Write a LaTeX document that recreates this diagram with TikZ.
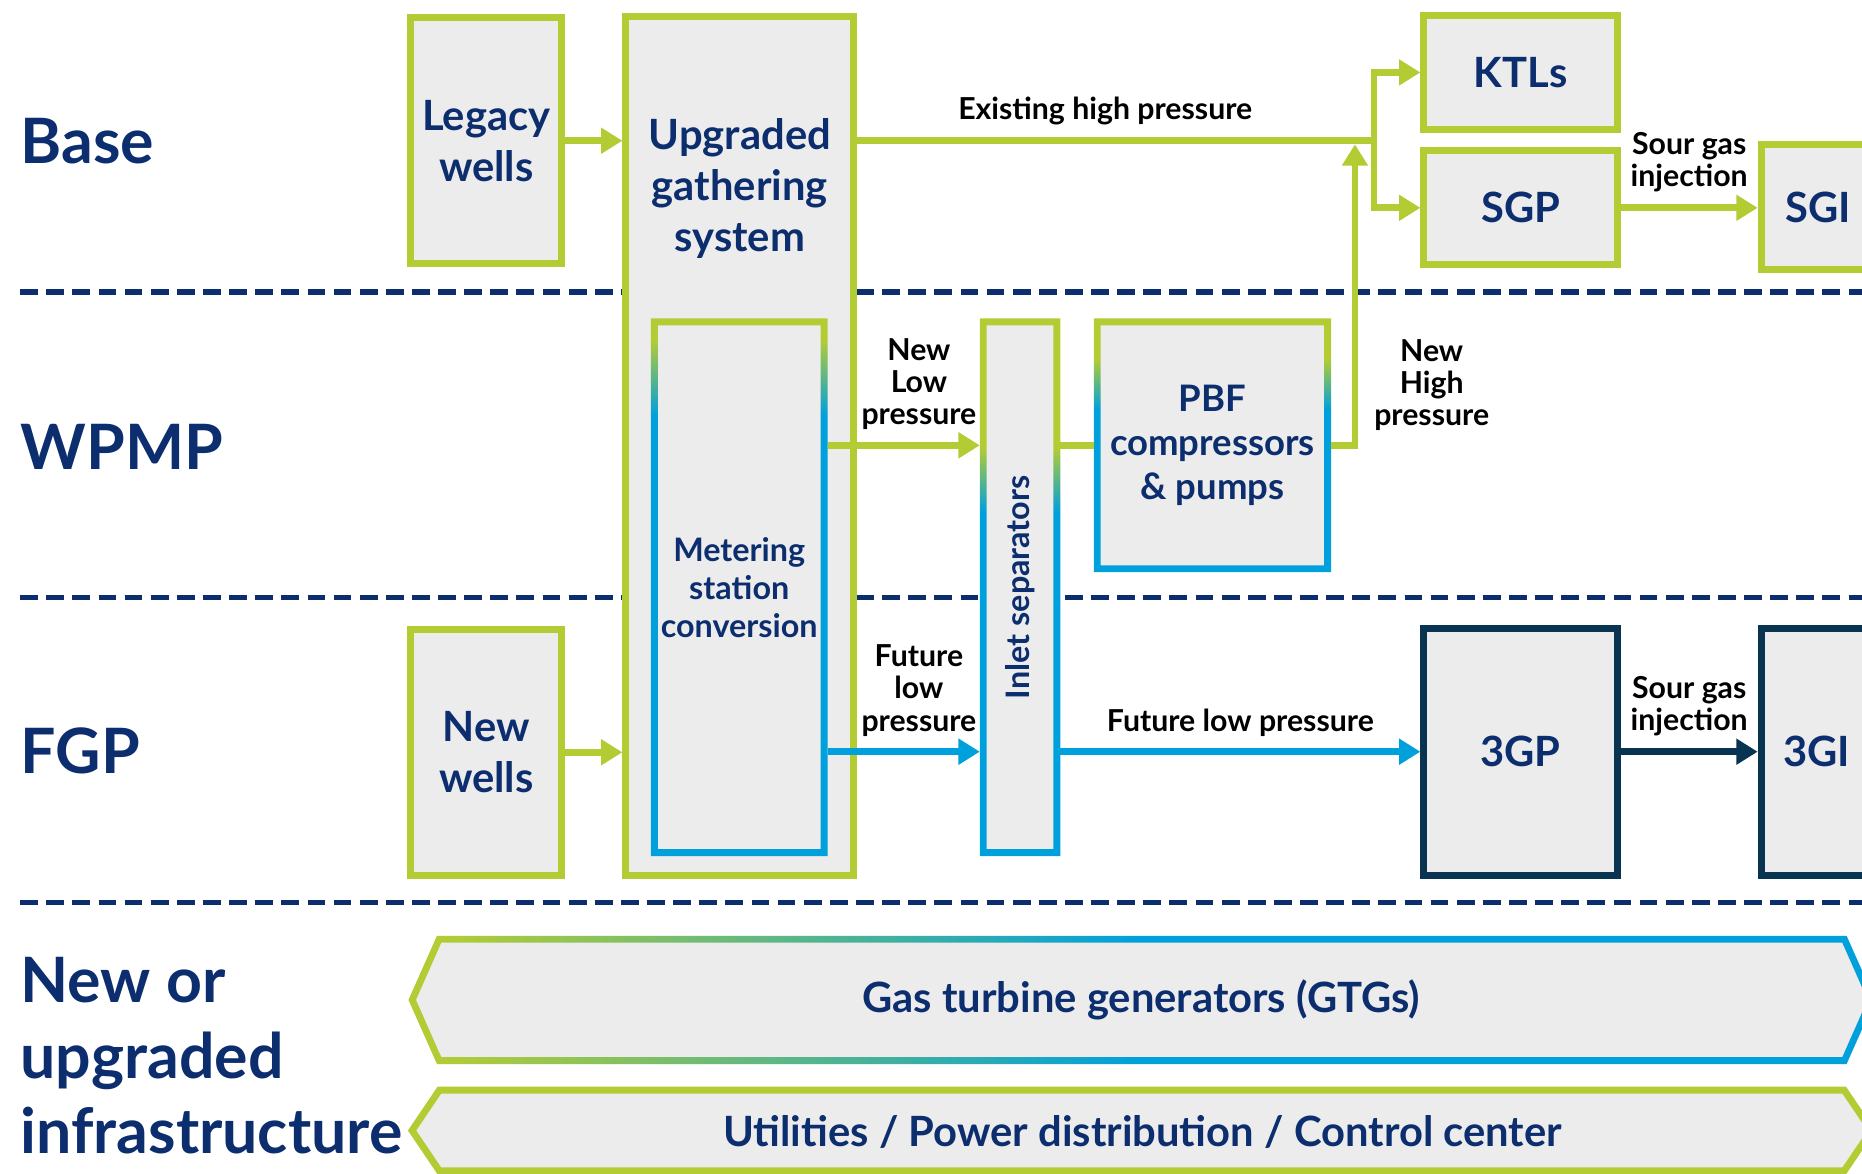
\documentclass[tikz,border=0pt]{standalone}
\usepackage{fontspec}
\setmainfont{Lato}
\usetikzlibrary{arrows.meta, positioning, calc}

\definecolor{lime}{RGB}{180,204,52}
\definecolor{sky}{RGB}{0,160,220}
\definecolor{navy}{RGB}{12,45,110}
\definecolor{deep}{RGB}{8,52,82}
\definecolor{boxgray}{RGB}{236,236,236}

% border fades, green at the top (or left) into blue
\pgfdeclareverticalshading{metfade}{100bp}{color(0bp)=(sky); color(66bp)=(sky); color(73bp)=(lime); color(100bp)=(lime)}
\pgfdeclareverticalshading{pbffade}{100bp}{color(0bp)=(sky); color(57bp)=(sky); color(67bp)=(lime); color(100bp)=(lime)}
\pgfdeclareverticalshading{inletfade}{100bp}{color(0bp)=(sky); color(57bp)=(sky); color(63bp)=(lime); color(100bp)=(lime)}
\pgfdeclarehorizontalshading{gtgfade}{100bp}{color(0bp)=(lime); color(26bp)=(lime); color(50bp)=(sky); color(100bp)=(sky)}

\begin{document}
\begin{tikzpicture}[
    x=0.02cm, y=-0.02cm,
    unit/.style={rectangle, draw=lime, fill=boxgray, line width=3.3pt, outer sep=1.65pt, inner sep=0pt, align=center, text=navy, font=\fontsize{20}{24.4}\selectfont\bfseries},
    boxtxt/.style={inner sep=0pt, align=center, text=navy, font=\fontsize{20}{24.4}\selectfont\bfseries},
    band/.style={anchor=west, inner sep=0pt, align=left, text=navy, font=\fontsize{30}{36.2}\selectfont\bfseries},
    lbl/.style={align=center, text=black, font=\fontsize{14.5}{15.4}\selectfont\bfseries},
    divider/.style={navy, line width=0.09cm, dash pattern=on 0.3cm off 0.14cm},
    gline/.style={lime, line width=3.3pt},
    garrow/.style={-{Triangle[length=0.36cm, width=0.42cm]}, lime, line width=3.3pt},
    barrow/.style={-{Triangle[length=0.36cm, width=0.42cm]}, sky, line width=3.3pt},
    darrow/.style={-{Triangle[length=0.36cm, width=0.42cm]}, deep, line width=3.3pt}
]
    \useasboundingbox (0,0) rectangle (1568,988);
    \clip (0,0) rectangle (1568,988);

    % Row labels and dividers
    \node[band] (base) at (17,119) {Base};
    \node[band] (wpmp) at (17,376) {WPMP};
    \node[band] (fgp) at (17,632) {FGP};
    \node[band] (infra) at (17,889) {New or\\upgraded\\infrastructure};
    \draw[divider] (17,246) -- (1568,246);
    \draw[divider] (17,503) -- (1568,503);
    \draw[divider] (17,760) -- (1568,760);

    % Nodes
    \node[unit, minimum width=2.54cm, minimum height=4.14cm] (legacy) at (409.5,118.5) {Legacy\\wells};
    \node[unit, minimum width=2.54cm, minimum height=4.14cm] (newwells) at (409.5,633.5) {New\\wells};
    \node[unit, minimum width=3.84cm, minimum height=14.46cm] (ugs) at (623,375.5) {};
    \node[boxtxt] (ugstext) at (623,159) {Upgraded\\gathering\\system};
    \node[unit, draw=none, minimum width=2.86cm, minimum height=8.94cm, font=\fontsize{15.5}{18.2}\selectfont\bfseries] (met) at (622.5,494.5) {Metering\\station\\conversion};
    \node[unit, draw=none, minimum width=1.24cm, minimum height=8.94cm] (inlet) at (859,494.5) {};
    \node[boxtxt, rotate=90, font=\fontsize{15.5}{18.2}\selectfont\bfseries] (inlettext) at (inlet) {Inlet separators};
    \node[unit, draw=none, minimum width=3.88cm, minimum height=4.16cm, font=\fontsize{17.5}{21.3}\selectfont\bfseries] (pbf) at (1021,375) {PBF\\compressors\\\& pumps};
    \node[unit, minimum width=3.26cm, minimum height=1.92cm] (ktl) at (1280.5,61) {KTLs};
    \node[unit, minimum width=3.26cm, minimum height=1.92cm] (sgp) at (1280.5,175) {SGP};
    \node[unit, minimum width=1.92cm, minimum height=2.10cm] (sgi) at (1531,174.5) {SGI};
    \node[unit, draw=deep, minimum width=3.26cm, minimum height=4.16cm] (tgp) at (1280.5,633) {3GP};
    \node[unit, draw=deep, minimum width=1.88cm, minimum height=4.16cm] (tgi) at (1530,633) {3GI};

    % Faded borders
    \shade[shading=metfade, even odd rule] (met.south west) rectangle (met.north east) ($(met.south west)+(5.8,-5.8)$) rectangle ($(met.north east)+(-5.8,5.8)$);
    \shade[shading=inletfade, even odd rule] (inlet.south west) rectangle (inlet.north east) ($(inlet.south west)+(5.8,-5.8)$) rectangle ($(inlet.north east)+(-5.8,5.8)$);
    \shade[shading=pbffade, even odd rule] (pbf.south west) rectangle (pbf.north east) ($(pbf.south west)+(5.8,-5.8)$) rectangle ($(pbf.north east)+(-5.8,5.8)$);

    % Infrastructure bands
    \fill[boxgray] (344,842) -- (368,788) -- (1555,788) -- (1579,842) -- (1555,896) -- (368,896) -- cycle;
    \shade[shading=gtgfade, even odd rule] (344,842) -- (368,788) -- (1555,788) -- (1579,842) -- (1555,896) -- (368,896) -- cycle
        (350.3,842) -- (371.6,793.8) -- (1551.4,793.8) -- (1572.7,842) -- (1551.4,890.2) -- (371.6,890.2) -- cycle;
    \node[boxtxt] (gtg) at (961,842) {Gas turbine generators (GTGs)};
    \draw[gline, fill=boxgray] (347,952) -- (370,918) -- (1553,918) -- (1576,952) -- (1553,986) -- (370,986) -- cycle;
    \node[boxtxt] (util) at (962,953) {Utilities / Power distribution / Control center};

    % Arrows
    \coordinate (split) at (1157,118.5);
    \coordinate (hpjoin) at (1141,121.5);
    \draw[garrow] (legacy.east) -- (legacy.east -| ugs.west);
    \draw[garrow] (newwells.east) -- (newwells.east -| ugs.west);
    \draw[gline] (ugs.east |- split) -- node[lbl, above=2.5pt, pos=0.48] {Existing high pressure} (split);
    \draw[garrow] (split) |- (ktl.west);
    \draw[garrow] (split) |- (sgp.west);
    \draw[garrow] (sgp.east) -- node[lbl, above=2.5pt] {Sour gas\\injection} (sgp.east -| sgi.west);
    \draw[garrow] (met.east |- pbf) -- node[lbl, above=2.5pt, pos=0.6] {New\\Low\\pressure} (inlet.west |- pbf);
    \draw[gline] (inlet.east |- pbf) -- (pbf.west);
    \draw[garrow] (pbf.east) -| node[lbl, right=0.15cm, pos=0.6] {New\\High\\pressure} (hpjoin);
    \draw[barrow] (met.east |- tgp) -- node[lbl, above=2.5pt, pos=0.6] {Future\\low\\pressure} (inlet.west |- tgp);
    \draw[barrow] (inlet.east |- tgp) -- node[lbl, above=2.5pt] {Future low pressure} (tgp.west);
    \draw[darrow] (tgp) -- node[lbl, above=2.5pt] {Sour gas\\injection} (tgi);
\end{tikzpicture}
\end{document}
